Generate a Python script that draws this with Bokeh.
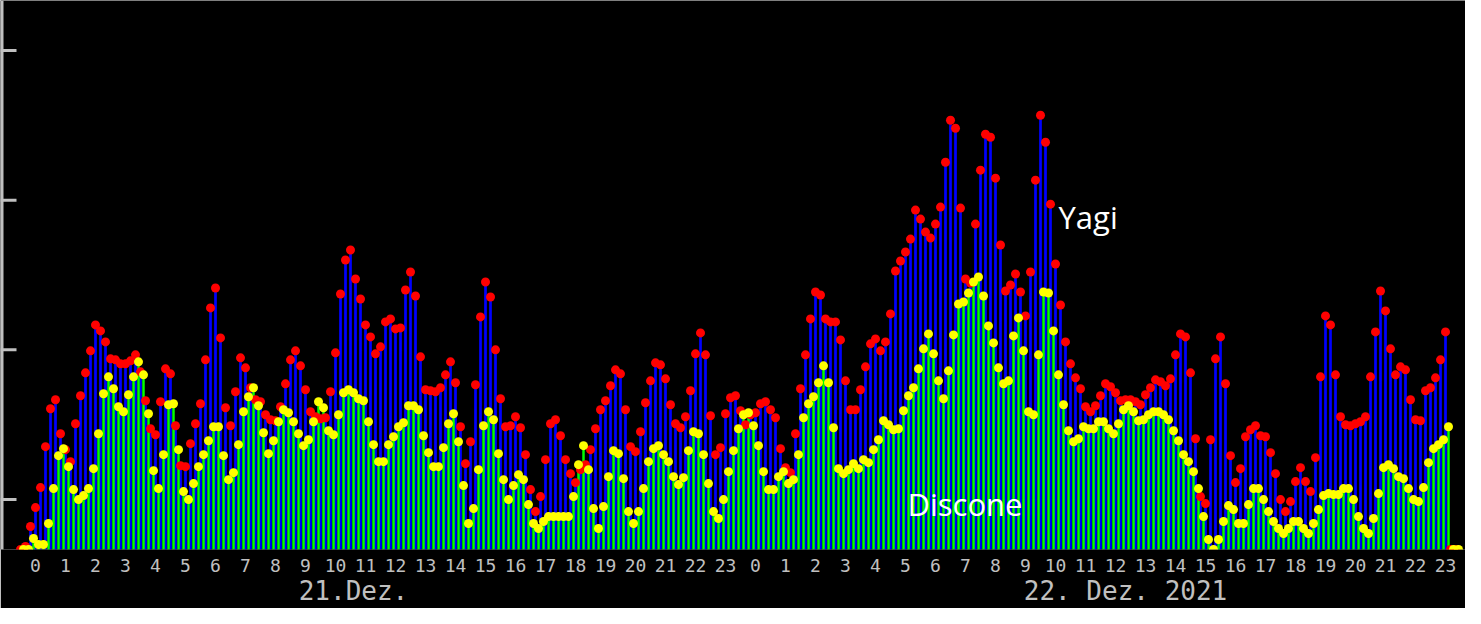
from bokeh.plotting import figure
from bokeh.models import Range1d, FixedTicker, LinearAxis, ColumnDataSource, Span
from bokeh.embed import file_html
from bokeh.resources import INLINE
from bokeh.core.properties import value

# ---- data: 10-minute slots, 21.12.2021 00:00 .. 22.12.2021 23:50 ----
slot_minutes = list(range(0, 48 * 60, 10))

yagi = [
    0, 3, 23, 42, 62, 103,        141, 150, 116, 100, 88, 126,
    154, 177, 199, 225, 219, 208, 191, 190, 186, 186, 189, 195,
    178, 149, 121, 115, 148, 181, 176, 124, 84, 83, 106, 126,
    146, 190, 242, 262, 212, 142, 124, 158, 192, 182, 162, 150,
    148, 135, 130, 129, 143, 166, 190, 199, 184, 160, 138, 133,
    131, 132, 158, 197, 256, 290, 300, 271, 251, 225, 213, 196,
    203, 228, 231, 221, 222, 260, 278, 254, 193, 160, 159, 158,
    162, 175, 188, 167, 123, 86,  108, 165, 233, 268, 253, 200,
    151, 123, 124, 133, 122, 95,  60, 38, 53, 90, 126, 130,
    114, 90, 76, 67, 80, 85,      100, 121, 140, 149, 164, 180,
    176, 140, 103, 98, 118, 147,  169, 187, 185, 171, 145, 126,
    122, 133, 159, 196, 217, 195, 134, 95, 102, 136, 152, 154,
    139, 125, 135, 137, 146, 148, 140, 132, 101, 82, 77, 116,
    161, 195, 231, 258, 255, 231, 228, 228, 210, 169, 140, 140,
    160, 183, 206, 211, 199, 208, 236, 279, 289, 298, 311, 340,
    331, 318, 312, 326, 343, 388, 430, 422, 342, 271, 267, 326,
    380, 416, 413, 372, 305, 259, 265, 276, 258, 234, 278, 370,
    435, 408, 346, 286, 245, 208, 186, 172, 161, 143, 138, 144,
    154, 166, 163, 157, 149, 150, 150, 148, 145, 155, 162, 170,
    168, 164, 171, 195, 216, 213, 177, 111, 53, 46, 110, 191,
    213, 166, 94, 67, 81, 113,    120, 124, 114, 113, 97, 76,
    50, 38, 48, 68, 82, 68,       58, 92, 173, 234, 225, 175,
    133, 125, 124, 126, 128, 133, 173, 218, 259, 239, 201, 175,
    183, 180, 150, 130, 129, 159, 162, 172, 190, 218, 0, 0,
]

discone = [
    0, 0, 11, 5, 5, 26,           61, 94, 101, 83, 60, 50,
    54, 61, 81, 116, 156, 173,    161, 143, 138, 155, 173, 188,
    175, 136, 79, 61, 95, 145,    146, 100, 58, 50, 66, 83,
    95, 109, 123, 123, 94, 70,    77, 105, 138, 153, 162, 144,
    117, 96, 109, 128, 140, 137,  128, 116, 104, 110, 128, 148,
    142, 119, 115, 135, 157, 160, 157, 151, 149, 128, 105, 88,
    88, 105, 113, 123, 127, 144,  144, 140, 114, 97, 83, 83,
    102, 126, 136, 108, 64, 26,   41, 80, 124, 138, 130, 96,
    70, 50, 64, 75, 70, 45,       26, 21, 28, 33, 33, 33,
    33, 33, 53, 85, 104, 80,      41, 21, 43, 73, 99, 96,
    71, 38, 26, 38, 61, 88,       101, 104, 95, 88, 73, 65,
    72, 99, 118, 116, 95, 66,     38, 31, 50, 78, 99, 121,
    135, 137, 124, 104, 78, 60,   60, 73, 78, 66, 70, 95,
    132, 146, 153, 167, 184, 167, 122, 81, 76, 80, 86, 81,
    90, 87, 100, 110, 129, 125,   120, 121, 139, 154, 162, 181,
    201, 216, 196, 169, 151, 179, 215, 246, 248, 257, 268, 273,
    254, 224, 207, 182, 166, 169, 214, 232, 199, 138, 135, 195,
    258, 257, 219, 175, 145, 119, 108, 111, 123, 121, 121, 128,
    128, 121, 116, 126, 140, 144, 138, 129, 130, 135, 138, 138,
    135, 130, 119, 109, 95, 88,   78, 61, 33, 10, 0, 10,
    28, 44, 40, 26, 26, 45,       61, 61, 50, 38, 28, 21,
    16, 21, 28, 28, 21, 16,       26, 40, 54, 56, 55, 55,
    61, 61, 50, 33, 21, 16,       31, 56, 82, 85, 81, 73,
    71, 61, 50, 48, 62, 87,       101, 105, 110, 123, 0, 0,
]

hour_labels = [str(h % 24) for h in range(48)]
day_labels = ["21.Dez.", "22. Dez. 2021"]
day_label_minutes = [666, 2210]
y_ticks = [50, 200, 350, 500]

GRAY = "#c0c0c0"

src = ColumnDataSource(dict(
    t=slot_minutes,
    tg=[m + 6 for m in slot_minutes],
    yagi=yagi,
    discone=discone,
))

p = figure(width=1465, height=608, output_backend="svg", toolbar_location=None,
           x_range=Range1d(-40, 2890), y_range=Range1d(0, 550),
           background_fill_color="black", border_fill_color="black",
           outline_line_color=None,
           min_border_left=0, min_border_right=0, min_border_top=0,
           min_border_bottom=58)
p.grid.visible = False
p.yaxis.visible = False

# hour axis
hx = p.xaxis[0]
hour_ticks = [60 * h + 30 for h in range(48)]
hx.ticker = FixedTicker(ticks=hour_ticks)
hx.major_label_overrides = {t: lab for t, lab in zip(hour_ticks, hour_labels)}
hx.axis_line_color = None
hx.major_tick_line_color = None
hx.minor_tick_line_color = None
hx.major_tick_out = 0
hx.major_tick_in = 0
hx.minor_tick_out = 0
hx.major_label_standoff = 9
hx.major_label_text_font = "DejaVu Sans Mono"
hx.major_label_text_font_size = "18px"
hx.major_label_text_color = GRAY

# day axis
dx = LinearAxis(ticker=FixedTicker(ticks=day_label_minutes),
                major_label_overrides={t: lab for t, lab in zip(day_label_minutes, day_labels)})
dx.axis_line_color = None
dx.major_tick_line_color = None
dx.minor_tick_line_color = None
dx.major_tick_out = 0
dx.major_tick_in = 0
dx.minor_tick_out = 0
dx.major_label_standoff = 1
dx.major_label_text_font = "DejaVu Sans Mono"
dx.major_label_text_font_size = "26px"
dx.major_label_text_color = GRAY
p.add_layout(dx, "below")

# left axis line with inward ticks
p.add_layout(Span(location=-37, dimension="height", line_color=GRAY, line_width=3))
p.segment(x0=[-40] * len(y_ticks), x1=[-8] * len(y_ticks), y0=y_ticks, y1=y_ticks,
          line_color=GRAY, line_width=3)

p.vbar(x="t", top="yagi", bottom=0, width=5.4, fill_color="#0000ff",
       line_color=None, source=src)
p.vbar(x="tg", top="discone", bottom=0, width=5.0, fill_color="#00ff00",
       line_color=None, source=src)
p.scatter(x="t", y="yagi", size=9, fill_color="#ff0000", line_color=None,
          source=src)
p.scatter(x="tg", y="discone", size=9, fill_color="#ffff00", line_color=None,
          source=src)

p.text(x=[2076], y=[333], text=["Yagi"], text_font=value("Open Sans"),
       text_font_size="31px", text_color="white", text_baseline="alphabetic",
       text_align="left")
p.text(x=[1774], y=[46], text=["Discone"], text_font=value("Open Sans"),
       text_font_size="31px", text_color="white", text_baseline="alphabetic",
       text_align="left")

open("out.html", "w").write(file_html(p, INLINE))
